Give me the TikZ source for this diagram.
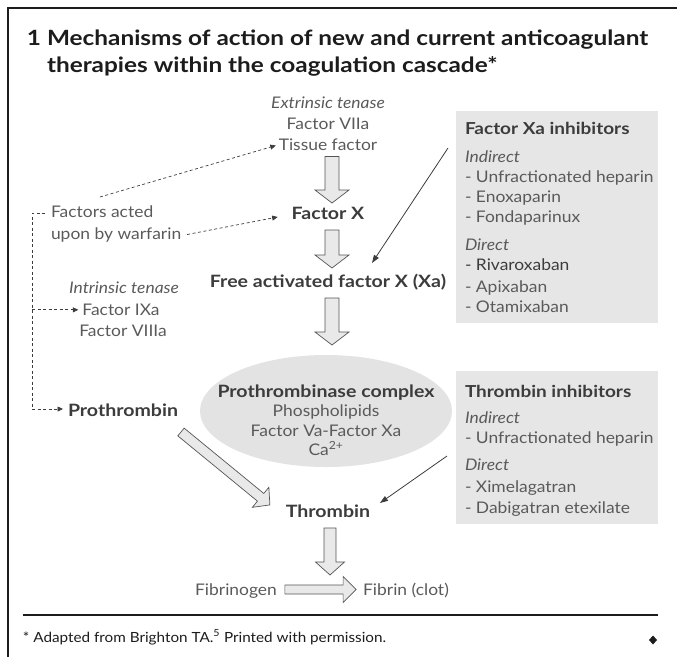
\documentclass[tikz,border=0pt]{standalone}
\usepackage{fontspec}
\setmainfont{Lato}[FakeStretch=1.09]
\newfontfamily\bldf{Lato}[FakeStretch=1.15]
\newfontfamily\ttlf{Lato}[FakeStretch=1.16]
\usetikzlibrary{arrows.meta,calc,shapes.geometric}
\definecolor{txt}{HTML}{5A5A5A}
\definecolor{dark}{HTML}{3C3C3C}
\definecolor{ttl}{HTML}{1C1C1C}
\definecolor{boxg}{HTML}{E6E6E7}
\definecolor{ellg}{HTML}{E3E3E4}
\definecolor{arrfill}{HTML}{E9E9E9}
\definecolor{arrline}{HTML}{555555}
\newcommand\blockarr[5]{%
  \path[draw=arrline, fill=arrfill, line width=0.7pt, line join=miter]
    let \p1=#1, \p2=#2, \n1={atan2(\y2-\y1,\x2-\x1)}, \n2={veclen(\x2-\x1,\y2-\y1)} in
    [shift={(\p1)}, rotate=\n1]
    (0pt,-#3pt) -- ({\n2-#5pt},-#3pt) -- ({\n2-#5pt},-#4pt) -- (\n2,0pt)
    -- ({\n2-#5pt},#4pt) -- ({\n2-#5pt},#3pt) -- (0pt,#3pt) -- cycle;}
\begin{document}
\begin{tikzpicture}[x=1pt,y=-1pt,
  every node/.style={inner sep=0pt, outer sep=0pt},
  reg/.style={font=\fontsize{16}{18}\selectfont, text=txt, anchor=base},
  itl/.style={font=\fontsize{16}{18}\selectfont\itshape, text=txt, anchor=base},
  bld/.style={font=\bldf\fontsize{17}{19}\selectfont\bfseries, text=dark, anchor=base},
  ttlstyle/.style={font=\ttlf\fontsize{21}{24}\selectfont\bfseries, text=ttl, anchor=base west},
  dashline/.style={draw=dark, dash pattern=on 3pt off 2.5pt, line width=0.7pt},
  dasharr/.style={dashline, -{Triangle[length=5.5pt,width=5pt]}},
  solarr/.style={draw=dark, line width=0.8pt, -{Triangle[length=8pt,width=5.5pt]}},
  graybox/.style={fill=boxg, anchor=north west}
]
\useasboundingbox (0,0) rectangle (677,657);
% frame
\draw[line width=2pt, ttl] (8,657) -- (8,8) -- (677,8);
\draw[line width=2pt, ttl] (23,615) -- (658,615);
% title
\node[ttlstyle] (tnum) at (27,45) {1};
\node[ttlstyle] (tl1) at (47,45) {Mechanisms of action of new and current anticoagulant};
\node[ttlstyle] (tl2) at (47,72) {therapies within the coagulation cascade*};
% gray boxes and ellipse
\node[graybox, minimum width=202pt, minimum height=212pt] (bx1) at (456,111) {};
\node[graybox, minimum width=202pt, minimum height=153pt] (bx2) at (456,371) {};
\node[ellipse, fill=ellg, minimum width=252pt, minimum height=112pt] (ell) at (326,411) {};
% central column
\node[itl] (ext) at (328,108.5) {Extrinsic tenase};
\node[reg] (f7) at (328,129.5) {Factor VIIa};
\node[reg] (tf) at (328,150.5) {Tissue factor};
\node[bld] (fx) at (328,219) {Factor X};
\node[bld] (fxa) at (328,287) {Free activated factor X (Xa)};
\node[bld] (pc) at (326,397) {Prothrombinase complex};
\node[reg] (ph) at (326,416.5) {Phospholipids};
\node[reg] (fv) at (326,436.5) {Factor Va-Factor Xa};
\node[reg] (ca) at (326,455.5) {Ca\textsuperscript{2+}};
\node[bld, anchor=base west] (prot) at (68,416) {Prothrombin};
\node[bld] (thr) at (328,517) {Thrombin};
\node[reg] (fgn) at (236,595.5) {Fibrinogen};
\node[reg] (fib) at (406,595.5) {Fibrin (clot)};
% left column
\node[reg, anchor=base west] (wa1) at (51,217.5) {Factors acted};
\node[reg, anchor=base west] (wa2) at (51,239.5) {upon by warfarin};
\node[itl] (intr) at (124,293.5) {Intrinsic tenase};
\node[reg] (f9) at (121,315.5) {Factor IXa};
\node[reg] (f8) at (123,336.5) {Factor VIIIa};
% box 1 text
\node[bld, anchor=base west, font=\bldf\fontsize{16.5}{18}\selectfont\bfseries] (b1t) at (465,134) {Factor Xa inhibitors};
\node[itl, anchor=base west] (b1i) at (465,162.5) {Indirect};
\node[reg, anchor=base west] (b1a) at (465,182.5) {- Unfractionated heparin};
\node[reg, anchor=base west] (b1b) at (465,202.5) {- Enoxaparin};
\node[reg, anchor=base west] (b1c) at (465,222.5) {- Fondaparinux};
\node[itl, anchor=base west] (b1d) at (465,250.5) {Direct};
\node[reg, anchor=base west, text=dark] (b1e) at (465,270.5) {- Rivaroxaban};
\node[reg, anchor=base west] (b1f) at (465,292.5) {- Apixaban};
\node[reg, anchor=base west] (b1g) at (465,312.5) {- Otamixaban};
% box 2 text
\node[bld, anchor=base west, font=\bldf\fontsize{16.5}{18}\selectfont\bfseries] (b2t) at (465,397) {Thrombin inhibitors};
\node[itl, anchor=base west] (b2i) at (465,423.5) {Indirect};
\node[reg, anchor=base west] (b2a) at (465,443.5) {- Unfractionated heparin};
\node[itl, anchor=base west] (b2d) at (465,470.5) {Direct};
\node[reg, anchor=base west] (b2e) at (465,492.5) {- Ximelagatran};
\node[reg, anchor=base west] (b2f) at (465,513.5) {- Dabigatran etexilate};
% footer
\node[anchor=base west, font=\fontsize{14}{16}\selectfont, text=ttl] (foot) at (23,642) {* Adapted from Brighton TA.\textsuperscript{5} Printed with permission.};
\node[diamond, fill=ttl, minimum width=8pt, minimum height=9pt] (dia) at (653,640) {};
% block arrows
\blockarr{($(tf.base)+(4,6)$)}{($(fx.base)+(4,-16)$)}{7}{17}{13}
\blockarr{($(fx.base)+(4,11)$)}{($(fxa.base)+(4,-19)$)}{7}{17}{13}
\blockarr{($(fxa.base)+(4,11)$)}{($(ell.north)+(6,-10)$)}{7}{17}{13}
\blockarr{($(prot.base east)+(3,16)$)}{($(thr.base)+(-58,-12)$)}{5}{13}{12}
\coordinate (cv) at (330,575);
\blockarr{($(thr.base)+(2,11)$)}{(cv)}{6}{14.5}{13}
\blockarr{($(fgn.base east)+(8,-6)$)}{($(fib.base west)+(-7,-6)$)}{4.5}{13}{13}
% dashed warfarin connectors
\coordinate (w0) at (100,197);
\draw[dasharr] (w0) -- ($(tf.base west)+(-3,-5)$);
\draw[dasharr] ($(wa2.base east)+(6,-5)$) -- ($(fx.base west)+(-14,-2)$);
\coordinate (lb) at (32,213);
\draw[dasharr] ($(wa1.base west)+(-6,-4.5)$) -- (lb) |- ($(prot.base west)+(-5,-7)$);
\draw[dasharr] (lb |- f9.center) -- ($(f9.west)+(-4,0)$);
% inhibitor arrows
\coordinate (i1) at (448,148);
\draw[solarr] (i1) -- ($(fxa.base)+(44,-24)$);
\coordinate (i2) at (447,456);
\draw[solarr] (i2) -- ($(thr.base)+(52,-14)$);
\end{tikzpicture}
\end{document}
